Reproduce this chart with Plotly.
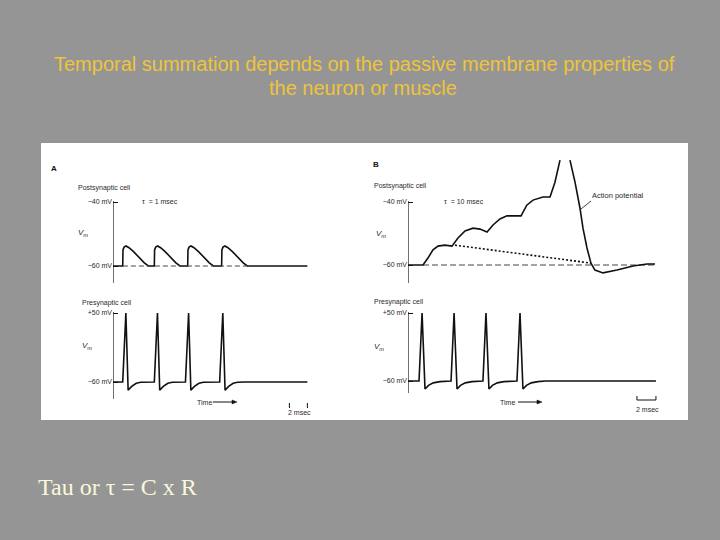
import plotly.graph_objects as go

W, H = 720, 540

# ---------------- data (time in ms, membrane potential in mV) ----------------
# Panel A, postsynaptic cell (tau = 1 msec)
a_post_t = [0,
            1.08, 1.11, 1.23, 1.45, 1.78, 2.28, 2.98, 3.48, 3.93,
            4.59, 4.62, 4.74, 4.96, 5.29, 5.79, 6.49, 6.99, 7.44,
            8.30, 8.33, 8.45, 8.67, 9.00, 9.50, 10.20, 10.70, 11.15,
            12.07, 12.10, 12.22, 12.44, 12.77, 13.27, 13.97, 14.47, 14.92,
            21.6]
a_post_v = [-60,
            -60, -55, -54.1, -53.75, -54.3, -55.5, -57.6, -59.0, -60,
            -60, -55, -54.1, -53.75, -54.3, -55.5, -57.6, -59.0, -60,
            -60, -55, -54.1, -53.75, -54.3, -55.5, -57.6, -59.0, -60,
            -60, -55, -54.1, -53.75, -54.3, -55.5, -57.6, -59.0, -60,
            -60]
a_rest_t = [1.1, 14.9]
a_rest_v = [-60, -60]

# Panel A, presynaptic cell
a_pre_t = [0,
           1.08, 1.43, 1.68, 2.08, 2.58, 3.08, 3.88,
           4.59, 4.94, 5.19, 5.59, 6.09, 6.59, 7.39,
           8.05, 8.40, 8.65, 9.05, 9.55, 10.05, 10.85,
           11.85, 12.20, 12.45, 12.85, 13.35, 13.85, 14.65,
           21.6]
a_pre_v = [-60,
           -60, 50, -73, -67, -62, -60.5, -60,
           -60, 50, -73, -67, -62, -60.5, -60,
           -60, 50, -73, -67, -62, -60.5, -60,
           -60, 50, -73, -67, -62, -60.5, -60,
           -60]

# Panel B, postsynaptic cell (tau = 10 msec) - summating EPSPs and action potential
b_post_t = [0, 1.58, 2.10, 2.63, 3.16, 3.89, 4.63, 5.26, 6.00, 6.84, 7.58, 8.32,
            8.95, 9.68, 10.42, 11.26, 11.90, 12.50, 13.16, 14.20, 14.95,
            15.47, 15.79, 16.00, None,
            17.05, 17.58, 18.10, 18.42, 18.84, 19.26, 19.68, 20.53, 22.00,
            23.68, 25.16, 26.00]
b_post_v = [-60, -60, -57.8, -55.2, -54.0, -53.7, -54.0, -51.4, -49.2, -48.3, -48.6, -49.5,
            -47.3, -45.4, -44.4, -44.4, -44.4, -41.0, -39.4, -38.4, -38.4,
            -33.7, -29.2, -26.7, None,
            -26.7, -33.7, -41.9, -48.3, -54.6, -59.4, -61.6, -62.5, -61.6,
            -60.3, -59.7, -59.7]
b_decay_t = [4.95, 19.26]
b_decay_v = [-53.7, -59.4]
b_rest_t = [1.58, 26.0]
b_rest_v = [-60, -60]

# Panel B, presynaptic cell
b_pre_t = [0,
           1.16, 1.48, 1.79, 2.16, 2.66, 3.36, 4.16,
           4.53, 4.85, 5.16, 5.53, 6.03, 6.73, 7.53,
           7.89, 8.21, 8.52, 8.89, 9.39, 10.09, 10.89,
           11.47, 11.79, 12.10, 12.47, 12.97, 13.67, 14.47,
           26.1]
b_pre_v = [-60,
           -60, 50, -73, -67, -63, -61, -60,
           -60, 50, -73, -67, -63, -61, -60,
           -60, 50, -73, -67, -63, -61, -60,
           -60, 50, -73, -67, -63, -61, -60,
           -60]

post_tickvals = [-40, -60]
post_ticktext = ["\u221240 mV", "\u221260 mV"]
pre_tickvals = [50, -60]
pre_ticktext = ["+50 mV", "\u221260 mV"]

# ---------------- layout helpers ----------------
def X(p):
    return p / W

def Y(p):
    return 1 - p / H

def yrange(top_px, bot_px, ref_px, ref_v, scale):
    return [ref_v - (bot_px - ref_px) / scale, ref_v + (ref_px - top_px) / scale]

def v_at(p, ref_px, ref_v, scale):
    return ref_v + (ref_px - p) / scale

INK = "#111111"
TXT = "#2a2a2a"
SANS = "Liberation Sans, Arial, sans-serif"

fig = go.Figure()

line_main = dict(color=INK, width=1.6)
fig.add_trace(go.Scatter(x=a_post_t, y=a_post_v, mode="lines", line=line_main, xaxis="x", yaxis="y"))
fig.add_trace(go.Scatter(x=a_rest_t, y=a_rest_v, mode="lines",
                         line=dict(color="#444444", width=1, dash="5px,3px"), xaxis="x", yaxis="y"))
fig.add_trace(go.Scatter(x=a_pre_t, y=a_pre_v, mode="lines", line=line_main, xaxis="x2", yaxis="y2"))
fig.add_trace(go.Scatter(x=b_rest_t, y=b_rest_v, mode="lines",
                         line=dict(color="#444444", width=1, dash="6px,3px"), xaxis="x3", yaxis="y3"))
fig.add_trace(go.Scatter(x=b_decay_t, y=b_decay_v, mode="lines",
                         line=dict(color=INK, width=1.6, dash="2px,2px"), xaxis="x3", yaxis="y3"))
fig.add_trace(go.Scatter(x=b_post_t, y=b_post_v, mode="lines", line=line_main,
                         connectgaps=False, xaxis="x3", yaxis="y3"))
fig.add_trace(go.Scatter(x=b_pre_t, y=b_pre_v, mode="lines", line=line_main, xaxis="x4", yaxis="y4"))

# panel geometry in pixels
A_X0, A_X1, A_MS = 113, 310, 9.0
B_X0, B_X1, B_MS = 408, 662, 9.5
POST_TOP, POST_BOT = 150, 285
PRE_TOP, PRE_BOT = 305, 402

a_post_map = (266, -60, 3.2)
a_pre_map = (382, -60, 0.627)
b_post_map = (265, -60, 3.15)
b_pre_map = (381, -60, 0.618)

def xax(x0, x1, ms, anchor):
    return dict(domain=[X(x0), X(x1)], range=[0, (x1 - x0) / ms], visible=False,
                anchor=anchor, fixedrange=True)

def yax(top, bot, m, anchor, tv, tt):
    return dict(domain=[Y(bot), Y(top)], range=yrange(top, bot, *m), anchor=anchor,
                showgrid=False, zeroline=False, showline=False, fixedrange=True,
                tickvals=tv, ticktext=tt, ticks="inside", ticklen=5, tickwidth=1,
                tickcolor=INK, tickfont=dict(family=SANS, size=7, color=TXT))

fig.update_layout(
    width=W, height=H, margin=dict(l=0, r=0, t=0, b=0),
    paper_bgcolor="#959595", plot_bgcolor="rgba(0,0,0,0)",
    showlegend=False, hovermode=False,
    xaxis=xax(A_X0, A_X1, A_MS, "y"),
    xaxis2=xax(A_X0, A_X1, A_MS, "y2"),
    xaxis3=xax(B_X0, B_X1, B_MS, "y3"),
    xaxis4=xax(B_X0, B_X1, B_MS, "y4"),
    yaxis=yax(POST_TOP, POST_BOT, a_post_map, "x", post_tickvals, post_ticktext),
    yaxis2=yax(PRE_TOP, PRE_BOT, a_pre_map, "x2", pre_tickvals, pre_ticktext),
    yaxis3=yax(POST_TOP, POST_BOT, b_post_map, "x3", post_tickvals, post_ticktext),
    yaxis4=yax(PRE_TOP, PRE_BOT, b_pre_map, "x4", pre_tickvals, pre_ticktext),
)

shapes = []
# white figure panel
shapes.append(dict(type="rect", xref="paper", yref="paper", x0=X(41), x1=X(688),
                   y0=Y(420), y1=Y(143), fillcolor="white", line=dict(width=0), layer="below"))
# vertical axis lines
for xr, yr, top, bot, m in [("x", "y", 201, 283, a_post_map), ("x2", "y2", 312, 399, a_pre_map),
                            ("x3", "y3", 201, 283, b_post_map), ("x4", "y4", 312, 393, b_pre_map)]:
    shapes.append(dict(type="line", xref=xr, yref=yr, x0=0, x1=0,
                       y0=v_at(bot, *m), y1=v_at(top, *m), line=dict(color=INK, width=1.2)))
# scale bar A: two ticks 2 ms apart
for t in [19.6, 21.6]:
    shapes.append(dict(type="line", xref="x2", yref="paper", x0=t, x1=t, y0=Y(408), y1=Y(403),
                       line=dict(color=INK, width=1)))
# scale bar B: bracket 2 ms
shapes.append(dict(type="line", xref="x4", yref="paper", x0=24.1, x1=26.1, y0=Y(400), y1=Y(400),
                   line=dict(color=INK, width=1)))
for t in [24.1, 26.1]:
    shapes.append(dict(type="line", xref="x4", yref="paper", x0=t, x1=t, y0=Y(400), y1=Y(396),
                       line=dict(color=INK, width=1)))
# leader line for "Action potential"
shapes.append(dict(type="line", xref="paper", yref="paper", x0=X(581), x1=X(591), y0=Y(209), y1=Y(201),
                   line=dict(color=INK, width=0.8)))
# time arrows (shaft + head)
for x0, x1 in [(213, 237), (518, 542)]:
    shapes.append(dict(type="line", xref="paper", yref="paper", x0=X(x0), x1=X(x1 - 3),
                       y0=Y(402), y1=Y(402), line=dict(color=INK, width=1)))
    shapes.append(dict(type="path", xref="paper", yref="paper",
                       path="M %f %f L %f %f L %f %f Z" % (X(x1), Y(402), X(x1 - 5), Y(400), X(x1 - 5), Y(404)),
                       fillcolor=INK, line=dict(color=INK, width=0.5)))
fig.update_layout(shapes=shapes)

ann = []

def txt(x, y, s, size=7, xanchor="left", bold=False, color=TXT, family=SANS):
    if bold:
        s = "<b>" + s + "</b>"
    ann.append(dict(x=X(x), y=Y(y), xref="paper", yref="paper", text=s, showarrow=False,
                    xanchor=xanchor, yanchor="middle", font=dict(family=family, size=size, color=color)))

# title
txt(364, 64, "Temporal summation depends on the passive membrane properties of", size=20,
    xanchor="center", color="#EFC43A")
txt(363, 88, "the neuron or muscle", size=20, xanchor="center", color="#EFC43A")
# bottom formula
txt(36, 487, "Tau or \u03c4 = C x R", size=24, color="#FAF8DC",
    family="Liberation Serif, Times New Roman, serif")

# panel A labels
txt(49, 168, "A", size=8, bold=True, color=INK)
txt(76, 188, "Postsynaptic cell")
txt(140, 202, "\u03c4  = 1 msec")
txt(76, 233, "<i>V</i><sub>m</sub>", size=8)
txt(80, 303, "Presynaptic cell")
txt(80, 346, "<i>V</i><sub>m</sub>", size=8)
txt(195, 402, "Time")
txt(299, 412, "2 msec", xanchor="center")

# panel B labels
txt(371, 164, "B", size=8, bold=True, color=INK)
txt(372, 186, "Postsynaptic cell")
txt(442, 202, "\u03c4  = 10 msec")
txt(374, 234, "<i>V</i><sub>m</sub>", size=8)
txt(590, 196, "Action potential", size=7.5)
txt(372, 302, "Presynaptic cell")
txt(372, 347, "<i>V</i><sub>m</sub>", size=8)
txt(498, 402, "Time")
txt(647, 409, "2 msec", xanchor="center")

fig.update_layout(annotations=ann)

fig.write_html("out.html", config={"displayModeBar": False, "staticPlot": True},
               post_script="document.body.style.margin='0';document.body.style.overflow='hidden';")
